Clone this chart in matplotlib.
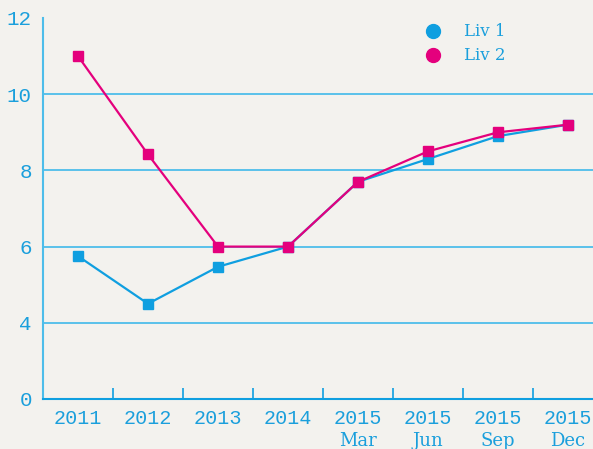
import matplotlib
matplotlib.use("Agg")
import matplotlib.pyplot as plt
import matplotlib.transforms as mtransforms

years = ["2011", "2012", "2013", "2014", "2015", "2015", "2015", "2015"]
months = ["", "", "", "", "Mar", "Jun", "Sep", "Dec"]
liv1 = [5.75, 4.5, 5.47, 6.0, 7.7, 8.3, 8.9, 9.2]
liv2 = [11.0, 8.42, 6.0, 6.0, 7.7, 8.5, 9.0, 9.2]
ytick_vals = [2, 4, 6, 8, 10, 12]   # axis is broken: the bottom tick is shown as 0
ytick_labels = ["0", "4", "6", "8", "10", "12"]
series_names = ["Liv 1", "Liv 2"]

BG = "#f3f2ee"
BLUE = "#0f9fe0"
PINK = "#e4007d"
TXT = "#1a9fdc"
GRID = "#4dbdea"

fig = plt.figure(figsize=(5.93, 4.49), dpi=100, facecolor=BG)
ax = fig.add_axes([43/593, 50/449, 560/593, 381/449])
ax.set_facecolor(BG)

x = list(range(len(years)))
ax.plot(x, liv1, color=BLUE, lw=1.6, marker="s", ms=6.5, zorder=3)
ax.plot(x, liv2, color=PINK, lw=1.6, marker="s", ms=6.5, zorder=4)

ax.set_xlim(-0.5, len(years) - 0.5)
ax.set_ylim(2, 12)

for v in ytick_vals[1:-1]:
    ax.axhline(v, color=GRID, lw=1.3, zorder=1)

ax.set_yticks(ytick_vals)
ax.set_yticklabels(ytick_labels, family="Liberation Mono", fontsize=15, color=TXT)
ax.tick_params(axis="y", length=0, pad=8)

ax.set_xticks(x)
ax.set_xticklabels(years, family="Liberation Mono", fontsize=14.5, color=TXT)
ax.tick_params(axis="x", which="major", length=0, pad=7)
ax.set_xticks([i + 0.5 for i in x[:-1]], minor=True)
ax.tick_params(axis="x", which="minor", direction="in", length=8, width=1.2, color=BLUE)

trans = mtransforms.blended_transform_factory(ax.transData, fig.transFigure)
for i, m in enumerate(months):
    if m:
        ax.text(i, 8/449, m, transform=trans, ha="center", va="center",
                family="DejaVu Serif", fontsize=13, color=TXT)

for s in ["top", "right"]:
    ax.spines[s].set_visible(False)
ax.spines["left"].set_color(GRID)
ax.spines["left"].set_linewidth(1.5)
ax.spines["bottom"].set_color(BLUE)
ax.spines["bottom"].set_linewidth(1.5)

# legend
for name, col, yy in zip(series_names, [BLUE, PINK], [418/449, 394/449]):
    fig.lines.append(plt.Line2D([433/593], [yy], transform=fig.transFigure,
                                marker="o", ms=10, color=col, ls=""))
    fig.text(464/593, yy, name, ha="left", va="center", family="DejaVu Serif",
             fontsize=12, color=TXT)

fig.savefig("out.png", dpi=100, facecolor=BG)
